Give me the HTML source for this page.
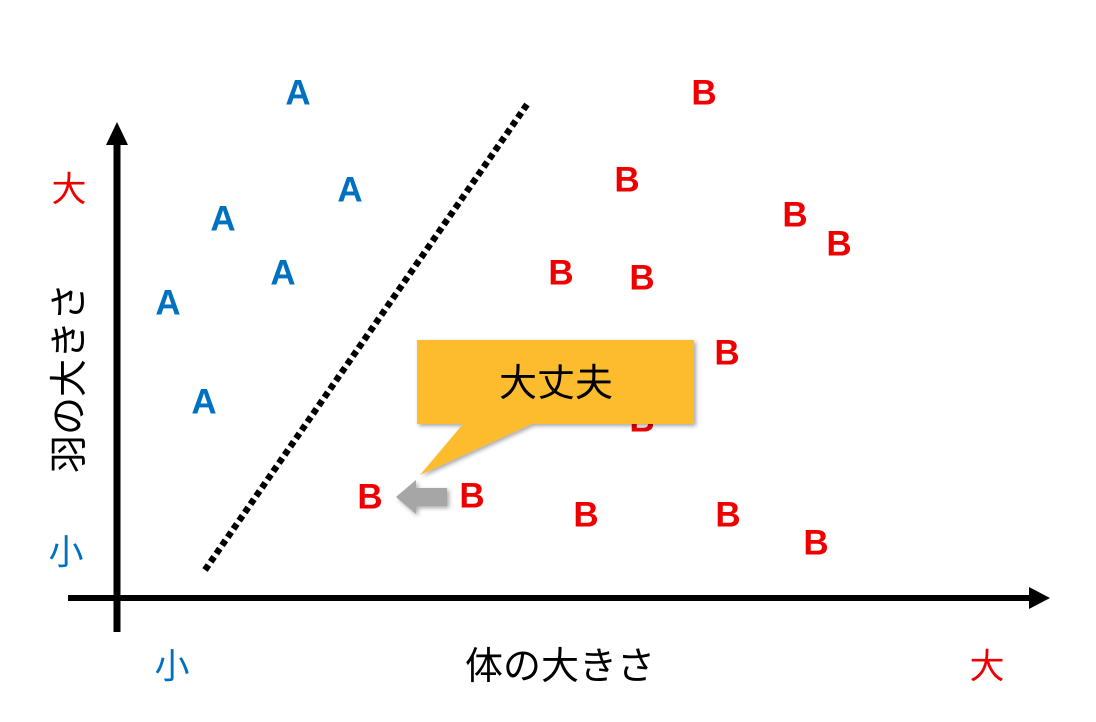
<!DOCTYPE html>
<html><head><meta charset="utf-8"><style>
body{margin:0;background:#fff;width:1096px;height:722px;overflow:hidden;position:relative;font-family:"Liberation Sans","Noto Sans CJK JP",sans-serif}
.t{position:absolute;transform:translate(-50%,-50%);white-space:nowrap;line-height:1}
.a{color:#0070c0;font-weight:bold;font-size:35px}
.b{color:#ee0000;font-weight:bold;font-size:35px}
.j{font-size:38px}
</style></head><body>
<svg width="1096" height="722" style="position:absolute;left:0;top:0">
<line x1="117" y1="632" x2="117" y2="140" stroke="#000" stroke-width="7"/>
<polygon points="117,122 106,145 128,145" fill="#000"/>
<line x1="68" y1="598" x2="1032" y2="598" stroke="#000" stroke-width="6"/>
<polygon points="1050,598 1029,587 1029,609" fill="#000"/>
<line x1="205" y1="570" x2="528" y2="103" stroke="#000" stroke-width="6.5" stroke-dasharray="6 4"/>
</svg>
<div class="t a" style="left:298px;top:93px">A</div>
<div class="t a" style="left:350px;top:190px">A</div>
<div class="t a" style="left:223px;top:219px">A</div>
<div class="t a" style="left:283px;top:273px">A</div>
<div class="t a" style="left:168px;top:303px">A</div>
<div class="t a" style="left:204px;top:402px">A</div>
<div class="t b" style="left:704px;top:93px">B</div>
<div class="t b" style="left:627px;top:180px">B</div>
<div class="t b" style="left:795px;top:215px">B</div>
<div class="t b" style="left:839px;top:244px">B</div>
<div class="t b" style="left:561px;top:273px">B</div>
<div class="t b" style="left:642px;top:278px">B</div>
<div class="t b" style="left:727px;top:353px">B</div>
<div class="t b" style="left:472px;top:356px">B</div>
<div class="t b" style="left:642px;top:420px">B</div>
<div class="t b" style="left:370px;top:497px">B</div>
<div class="t b" style="left:472px;top:496px">B</div>
<div class="t b" style="left:586px;top:515px">B</div>
<div class="t b" style="left:728px;top:515px">B</div>
<div class="t b" style="left:816px;top:543px">B</div>
<svg width="1096" height="722" style="position:absolute;left:0;top:0">
<defs><filter id="s" x="-10%" y="-10%" width="130%" height="130%"><feDropShadow dx="2" dy="2" stdDeviation="2" flood-color="#000" flood-opacity="0.35"/></filter></defs>
<path d="M417,340 H694 V424 H532 L420,475 L463,424 H417 Z" fill="#fdbb2f" filter="url(#s)"/>
<path d="M396,497 L416,480 V488 H447 V506 H416 V514 Z" fill="#a6a6a6" filter="url(#s)"/>
</svg>
<div class="t j" style="left:556px;top:384px">大丈夫</div>
<div class="t j" style="left:69px;top:190px;color:#ee0000;font-size:35px">大</div>
<div class="t j" style="left:66px;top:553px;color:#0070c0;font-size:35px">小</div>
<div class="t j" style="left:172px;top:667px;color:#0070c0;font-size:35px">小</div>
<div class="t j" style="left:987px;top:667px;color:#ee0000;font-size:35px">大</div>
<div class="t j" style="left:560px;top:667px">体の大きさ</div>
<div class="t j" style="left:70px;top:378px;transform:translate(-50%,-50%) rotate(-90deg)">羽の大きさ</div>
</body></html>
